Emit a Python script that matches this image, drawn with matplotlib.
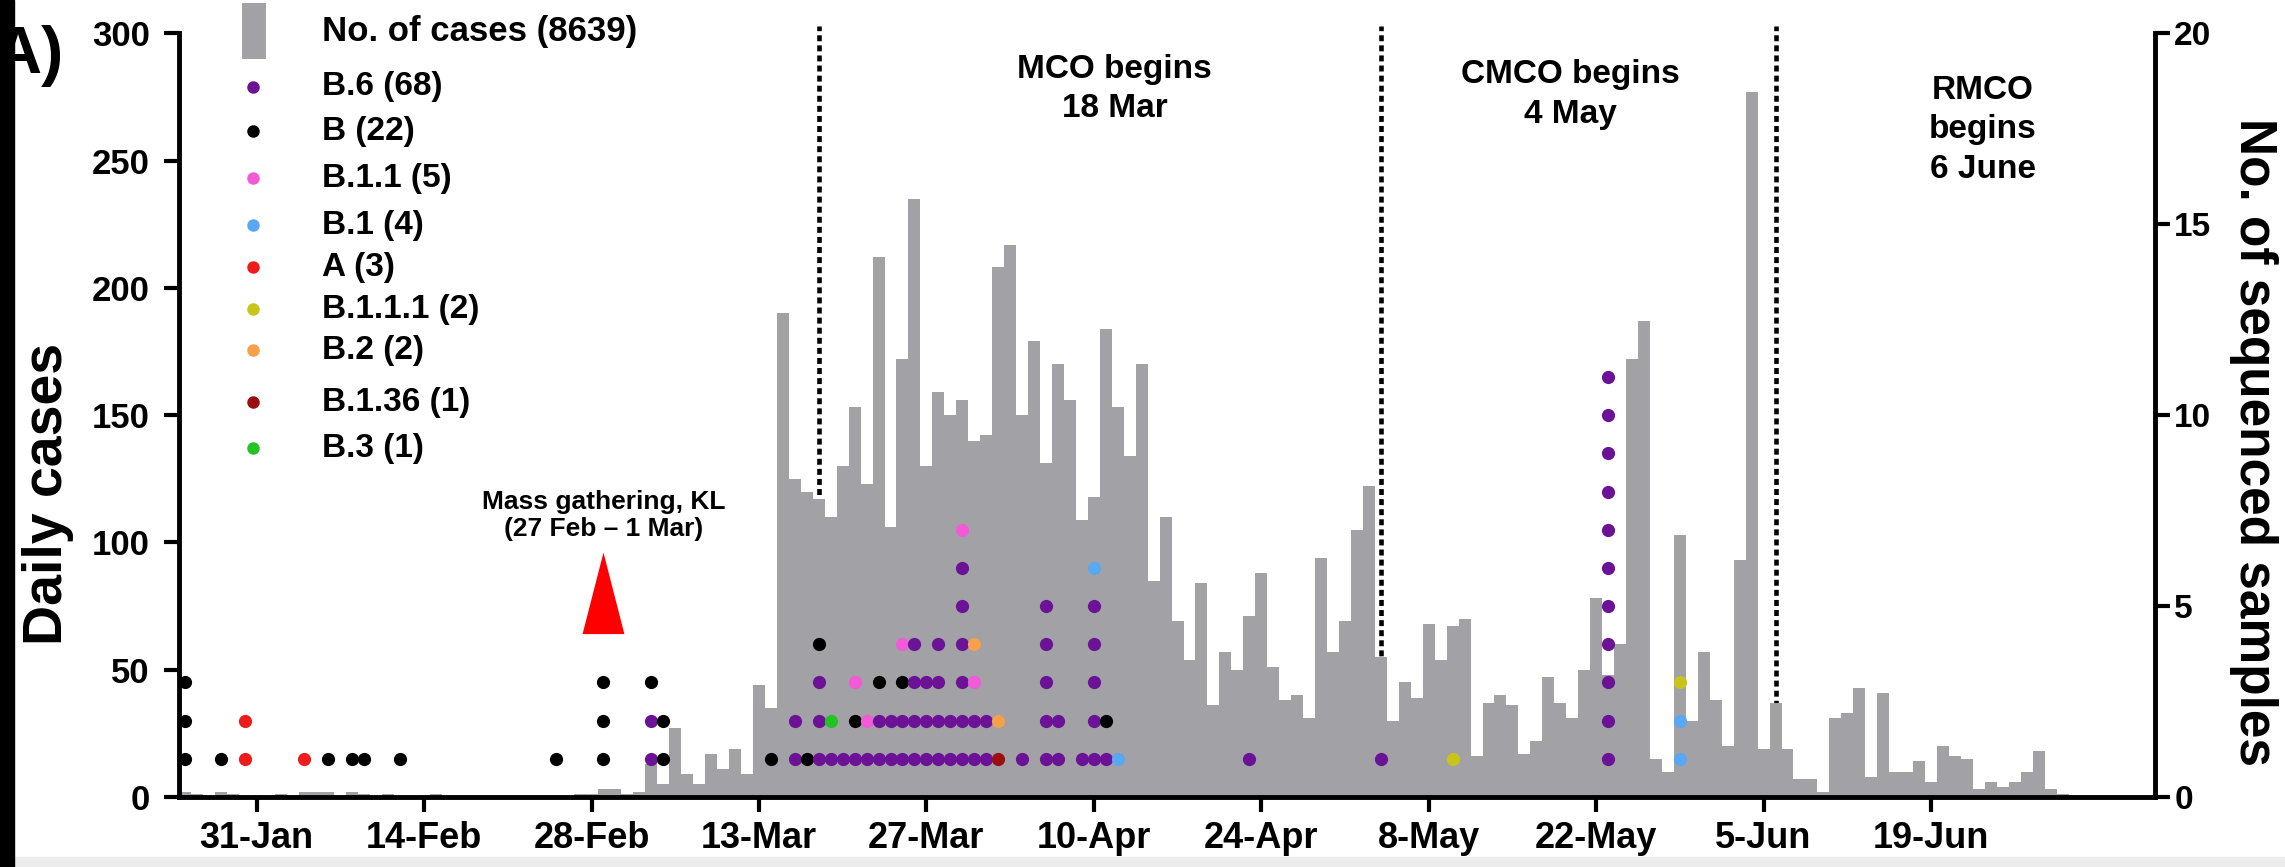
import pandas as pd
import matplotlib
matplotlib.use("Agg")
import matplotlib.pyplot as plt
import matplotlib.dates as mdates
from matplotlib.patches import Rectangle, Polygon

plt.rcParams["font.family"] = ["Liberation Sans", "DejaVu Sans"]
plt.rcParams["font.weight"] = "bold"

# daily cases, 25 Jan -> 30 Jun 2020
cases_jan = [2, 1, 0, 2, 1, 0, 0]
cases_feb = [0, 1, 0, 2, 2, 2, 0, 2, 1, 0, 1, 0, 0, 0, 1,
             0, 0, 0, 0, 0, 0, 0, 0, 0, 0, 0, 1, 1, 3]
cases_mar = [3, 1, 2, 13, 5, 27, 9, 5, 17, 11, 19, 9, 44, 35, 190, 125, 120,
             117, 110, 130, 153, 123, 212, 106, 172, 235, 130, 159, 150, 156, 140]
cases_apr = [142, 208, 217, 150, 179, 131, 170, 156, 109, 118, 184, 153, 134,
             170, 85, 110, 69, 54, 84, 36, 57, 50, 71, 88, 51, 38, 40, 31, 94, 57]
cases_may = [69, 105, 122, 55, 30, 45, 39, 68, 54, 67, 70, 16, 37, 40, 36, 17,
             22, 47, 37, 31, 50, 78, 48, 60, 172, 187, 15, 10, 103, 30, 57]
cases_jun = [38, 20, 93, 277, 19, 37, 19, 7, 7, 2, 31, 33, 43, 8, 41, 10, 10,
             14, 6, 20, 16, 15, 3, 6, 4, 6, 10, 18, 3, 1]
daily_cases = cases_jan + cases_feb + cases_mar + cases_apr + cases_may + cases_jun
case_dates = pd.date_range("2020-01-25", periods=len(daily_cases), freq="D")

# sequenced samples per day, stacked bottom -> top
sample_dates = ["2020-01-25", "2020-01-28", "2020-01-30", "2020-02-04", "2020-02-06",
                "2020-02-08", "2020-02-09", "2020-02-12", "2020-02-25", "2020-02-29",
                "2020-03-04", "2020-03-05", "2020-03-14", "2020-03-16", "2020-03-17",
                "2020-03-18", "2020-03-19", "2020-03-20", "2020-03-21", "2020-03-22",
                "2020-03-23", "2020-03-24", "2020-03-25", "2020-03-26", "2020-03-27",
                "2020-03-28", "2020-03-29", "2020-03-30", "2020-03-31", "2020-04-01",
                "2020-04-02", "2020-04-04", "2020-04-06", "2020-04-07", "2020-04-09",
                "2020-04-10", "2020-04-11", "2020-04-12", "2020-04-23", "2020-05-04",
                "2020-05-10", "2020-05-23", "2020-05-29"]
sample_stacks = [
    ["B", "B", "B"], ["B"], ["A", "A"], ["A"], ["B"],
    ["B"], ["B"], ["B"], ["B"], ["B", "B", "B"],
    ["B.6", "B.6", "B"], ["B", "B"], ["B"], ["B.6", "B.6"], ["B"],
    ["B.6", "B.6", "B.6", "B"], ["B.6", "B.3"], ["B.6"], ["B.6", "B", "B.1.1"], ["B.6", "B.1.1"],
    ["B.6", "B.6", "B"], ["B.6", "B.6"], ["B.6", "B.6", "B", "B.1.1"], ["B.6"] * 4, ["B.6"] * 3,
    ["B.6"] * 4, ["B.6"] * 2, ["B.6"] * 6 + ["B.1.1"], ["B.6", "B.6", "B.1.1", "B.2"], ["B.6", "B.6"],
    ["B.1.36", "B.2"], ["B.6"], ["B.6"] * 5, ["B.6"] * 2, ["B.6"],
    ["B.6"] * 5 + ["B.1"], ["B.6", "B"], ["B.1"], ["B.6"], ["B.6"],
    ["B.1.1.1"], ["B.6"] * 11, ["B.1", "B.1", "B.1.1.1"],
]

lineages = ["B.6", "B", "B.1.1", "B.1", "A", "B.1.1.1", "B.2", "B.1.36", "B.3"]
lineage_counts = [68, 22, 5, 4, 3, 2, 2, 1, 1]
lineage_colors = ["#6b1296", "#000000", "#f25ad7", "#5aa8f2", "#ee1c1c",
                  "#c9c41a", "#f5a04a", "#9a1010", "#22c322"]
total_cases = 8639

tick_dates = pd.date_range("2020-01-31", periods=11, freq="14D")
tick_labels = ["31-Jan", "14-Feb", "28-Feb", "13-Mar", "27-Mar", "10-Apr",
               "24-Apr", "8-May", "22-May", "5-Jun", "19-Jun"]

phase_dates = ["2020-03-18", "2020-05-04", "2020-06-06"]
bar_gray = "#a1a1a6"

fig = plt.figure(figsize=(22.85, 8.67), dpi=100)
ax = fig.add_axes([0.0783, 0.0807, 0.8647, 0.881])
ax2 = ax.twinx()

ax.bar(case_dates, daily_cases, width=1.0, color=bar_gray, linewidth=0, zorder=2)

for d in phase_dates:
    ax.vlines(pd.Timestamp(d), 0, 303, colors="black", linewidth=3.3,
              linestyles=(0, (1.3, 0.9)), zorder=1, clip_on=False)

# stacked sample dots
color_of = dict(zip(lineages, lineage_colors))
for d, stack in zip(sample_dates, sample_stacks):
    for level, lin in enumerate(stack, start=1):
        ax2.plot(pd.Timestamp(d), level, "o", ms=9.5, color=color_of[lin],
                 markeredgewidth=0, zorder=5)

ax.set_xlim(mdates.date2num(pd.Timestamp("2020-01-24 12:00")),
            mdates.date2num(pd.Timestamp("2020-07-07 17:00")))
ax.set_ylim(0, 300)
ax2.set_ylim(0, 20)

ax.set_xticks(tick_dates)
ax.set_xticklabels(tick_labels)
ax.set_yticks(range(0, 301, 50))
ax2.set_yticks(range(0, 21, 5))

for s in ["top", "right"]:
    ax.spines[s].set_visible(False)
for s in ["top", "left", "bottom"]:
    ax2.spines[s].set_visible(False)
ax.spines["left"].set_linewidth(3.5)
ax.spines["bottom"].set_linewidth(3.5)
ax2.spines["right"].set_linewidth(3.5)

ax.tick_params(axis="both", direction="out", length=11, width=3)
ax.tick_params(axis="x", labelsize=26, pad=6)
ax.tick_params(axis="y", labelsize=25, pad=10)
ax2.tick_params(axis="y", direction="out", length=11, width=3, labelsize=24, pad=3)

fig.text(0.021, 0.43, "Daily cases", rotation=90, ha="center", va="center",
         fontsize=40)
fig.text(0.986, 0.49, "No. of sequenced samples", rotation=270, ha="center",
         va="center", fontsize=37)

# phase annotations
ax.text(pd.Timestamp("2020-04-11 18:00"), 278, "MCO begins\n18 Mar", ha="center",
        va="center", fontsize=24, linespacing=1.35)
ax.text(pd.Timestamp("2020-05-19 20:00"), 276, "CMCO begins\n4 May", ha="center",
        va="center", fontsize=24, linespacing=1.35)
ax.text(pd.Timestamp("2020-06-23 08:00"), 262, "RMCO\nbegins\n6 June", ha="center",
        va="center", fontsize=24, linespacing=1.35)

# mass gathering marker
mg = pd.Timestamp("2020-02-29")
mg_x = mdates.date2num(mg)
ax.add_patch(Polygon([[mg_x - 1.75, 64], [mg_x + 1.75, 64], [mg_x, 96]],
                     closed=True, color="#ff0000", linewidth=0, zorder=4))
ax.text(mg, 110.5, "Mass gathering, KL\n(27 Feb \u2013 1 Mar)", ha="center",
        va="center", fontsize=19, linespacing=1.15)

# legend
leg_dot_x = pd.Timestamp("2020-01-30 17:00")
leg_text_x = pd.Timestamp("2020-02-05 12:00")
leg_rows_y = [279, 261.5, 243, 224.5, 208, 191.5, 175.5, 155, 137]
rect_x0 = mdates.date2num(pd.Timestamp("2020-01-29 18:00"))
ax.add_patch(Rectangle((rect_x0, 290), 2.0, 22, color=bar_gray, linewidth=0,
                       clip_on=False, zorder=6))
ax.text(leg_text_x, 300.5, f"No. of cases ({total_cases})", ha="left",
        va="center", fontsize=25, clip_on=False)
for name, n, col, yy in zip(lineages, lineage_counts, lineage_colors, leg_rows_y):
    ax.plot(leg_dot_x, yy, "o", ms=9, color=col, markeredgewidth=0, zorder=6)
    ax.text(leg_text_x, yy, f"{name} ({n})", ha="left", va="center", fontsize=24)

# panel label and edge artefacts of the reference
fig.text(-0.003, 0.935, "A)", ha="left", va="center", fontsize=48)
fig.add_artist(Rectangle((0, 0), 0.006, 1, transform=fig.transFigure,
                         color="black", zorder=10))
fig.add_artist(Rectangle((0, 0), 1, 0.012, transform=fig.transFigure,
                         color="#ececec", zorder=0))

fig.savefig("out.png", dpi=100)
